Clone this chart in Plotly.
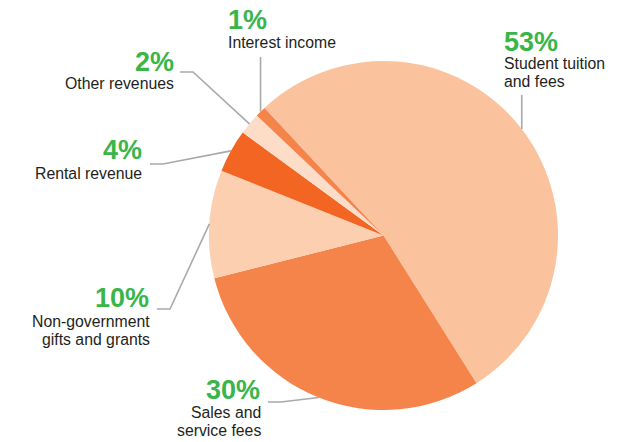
import math
import plotly.graph_objects as go

# ---- data ----
categories = ["Student tuition and fees", "Sales and service fees",
              "Non-government gifts and grants", "Rental revenue",
              "Other revenues", "Interest income"]
label_lines = [["Student tuition", "and fees"], ["Sales and", "service fees"],
               ["Non-government", "gifts and grants"], ["Rental revenue"],
               ["Other revenues"], ["Interest income"]]
values = [53, 30, 10, 4, 2, 1]
colors = ["#FBC39D", "#F5844A", "#FCCFB1", "#F26522", "#FDDDC8", "#F5844A"]

W, H = 634, 442
OFF = 8  # page body margin offset
CX, CY, R = 383.5, 235.5, 174.5
ROT = -43.0  # start angle of first slice, degrees clockwise from 12 o'clock

GREEN = "#3AB54A"
TEXT = "#231F20"
LINE = "#A7A9AC"
FONT = "Liberation Sans, Arial, Helvetica, sans-serif"


def X(px):
    return (px - OFF) / W


def Y(py):
    return 1 - (py - OFF) / H


fig = go.Figure(go.Pie(
    labels=categories, values=values, sort=False, direction="clockwise",
    rotation=ROT, marker=dict(colors=colors, line=dict(width=0)),
    textinfo="none", hoverinfo="label+percent", showlegend=False,
    domain=dict(x=[X(CX - R), X(CX + R)], y=[Y(CY + R), Y(CY - R)]),
))

# label placement: percent position, name line positions, anchor, leader elbows
layout_info = {
    "Student tuition and fees": dict(px=503, py=42, nx=503, ny=[63, 82], anchor="left", elbow="vertical", ey=95),
    "Sales and service fees": dict(px=261, py=390, nx=262, ny=[412, 430], anchor="right", elbow=[(268, 402), (281, 402)]),
    "Non-government gifts and grants": dict(px=150, py=298, nx=151, ny=[321, 339], anchor="right", elbow=[(157, 309), (170, 309)]),
    "Rental revenue": dict(px=143, py=150, nx=143, ny=[173], anchor="right", elbow=[(150, 164), (163, 164)]),
    "Other revenues": dict(px=175, py=62, nx=175, ny=[83], anchor="right", elbow=[(180, 72), (193, 72)]),
    "Interest income": dict(px=227, py=20, nx=227, ny=[43], anchor="left", elbow="vertical", ey=57),
}

total = sum(values)
start = ROT
annotations = []
shapes = []
for cat, lines, v in zip(categories, label_lines, values):
    sweep = 360.0 * v / total
    mid = math.radians(start + sweep / 2)
    start += sweep
    ex = CX + R * math.sin(mid)
    ey = CY - R * math.cos(mid)
    info = layout_info[cat]
    if info["elbow"] == "vertical":
        pts = [(ex, info["ey"]), (ex, ey)]
    else:
        pts = list(info["elbow"]) + [(ex, ey)]
    path = "M " + " L ".join(f"{X(a):.5f},{Y(b):.5f}" for a, b in pts)
    shapes.append(dict(type="path", path=path, xref="paper", yref="paper",
                       line=dict(color=LINE, width=1.6)))
    annotations.append(dict(
        x=X(info["px"]), y=Y(info["py"]), xref="paper", yref="paper",
        text=f"<b>{v}%</b>", showarrow=False, xanchor=info["anchor"], yanchor="middle",
        align=info["anchor"], borderpad=0, font=dict(family=FONT, size=27, color=GREEN)))
    for line_text, ly in zip(lines, info["ny"]):
        annotations.append(dict(
            x=X(info["nx"]), y=Y(ly), xref="paper", yref="paper",
            text=line_text, showarrow=False, xanchor=info["anchor"], yanchor="middle",
            align=info["anchor"], borderpad=0, font=dict(family=FONT, size=15.8, color=TEXT)))

fig.update_layout(
    width=W, height=H, margin=dict(l=0, r=0, t=0, b=0),
    paper_bgcolor="white", plot_bgcolor="white",
    annotations=annotations, shapes=shapes,
)

fig.write_html("out.html")
